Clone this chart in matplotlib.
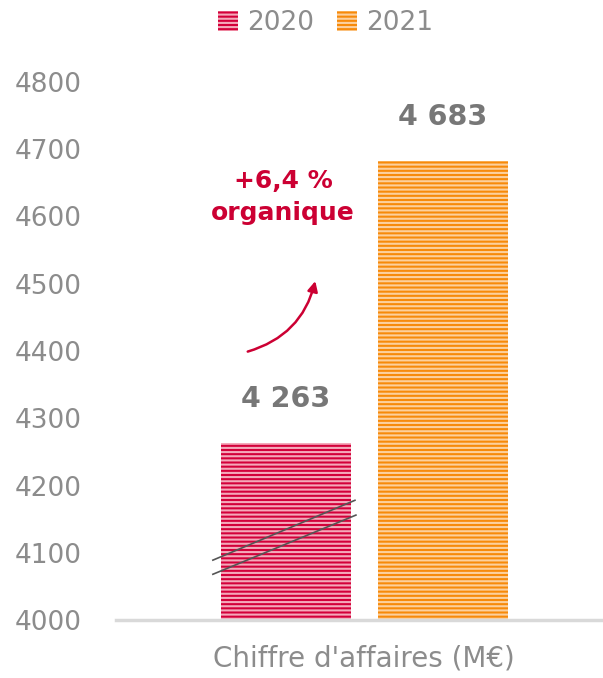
import matplotlib.pyplot as plt
from matplotlib.patches import Rectangle

plt.rcParams['font.family'] = ['DejaVu Sans']
plt.rcParams['hatch.linewidth'] = 1.5

# data
category = "Chiffre d'affaires (M€)"
years = ['2020', '2021']
values = [4263, 4683]
value_labels = ['4 263', '4 683']
growth_label = '+6,4 %\norganique'

face_colors = ['#D3003A', '#F78A0A']
stripe_colors = ['#F4A9BA', '#FCD09E']
grey = '#8C8C8C'
crimson = '#CC0033'

fig = plt.figure(figsize=(6.03, 6.78), dpi=100)
ax = fig.add_axes([116 / 603, 1 - 620 / 678, 1 - 116 / 603, (620 - 82) / 678])

width = 0.4
offsets = [-0.2415, 0.2415]
for i in range(len(years)):
    ax.bar(offsets[i], values[i] - 4000, bottom=4000, width=width,
           facecolor=face_colors[i], edgecolor=stripe_colors[i],
           hatch='----', linewidth=0, label=years[i], zorder=2)
    ax.annotate(value_labels[i], (offsets[i], values[i]), xytext=(0, 30),
                textcoords='offset pixels', ha='center', va='bottom',
                fontsize=20.5, fontweight='bold', color='#777777')

ax.set_ylim(4000, 4800)
ax.set_xlim(-0.763, 0.735)
ax.set_yticks(range(4000, 4801, 100))
ax.set_xticks([0])
ax.set_xticklabels([category])
ax.tick_params(axis='y', length=0, labelsize=19, labelcolor=grey, pad=24.5)
ax.tick_params(axis='x', length=0, labelsize=20, labelcolor=grey, pad=18)
for side in ['top', 'right', 'left']:
    ax.spines[side].set_visible(False)
ax.spines['bottom'].set_color('#D9D9D9')
ax.spines['bottom'].set_linewidth(2.5)
ax.spines['bottom'].set_zorder(3)

# axis-break marks on the 2020 bar
ax.plot([-0.465, -0.028], [4089, 4178], color='#555555', lw=1.2, zorder=4)
ax.plot([-0.465, -0.025], [4068, 4156], color='#555555', lw=1.2, zorder=4)

# growth annotation
ax.text(-0.249, 4629, growth_label, ha='center', va='center', fontsize=18,
        fontweight='bold', color=crimson, linespacing=1.45)
ax.annotate('', xy=(-0.148, 4508), xytext=(-0.366, 4398),
            arrowprops=dict(arrowstyle='-|>,head_length=0.6,head_width=0.3',
                            connectionstyle='arc3,rad=0.3', color=crimson, lw=1.8))

# legend
handles = [Rectangle((0, 0), 1, 1, facecolor=face_colors[i], edgecolor=stripe_colors[i],
                     hatch='----', linewidth=0) for i in range(len(years))]
fig.legend(handles, years, loc='upper center', bbox_to_anchor=(0.54, 1.02), ncol=2,
           frameon=False, fontsize=19, labelcolor=grey, handlelength=0.75,
           handleheight=0.8, handletextpad=0.35, columnspacing=0.9)

fig.savefig('out.png', dpi=100)
